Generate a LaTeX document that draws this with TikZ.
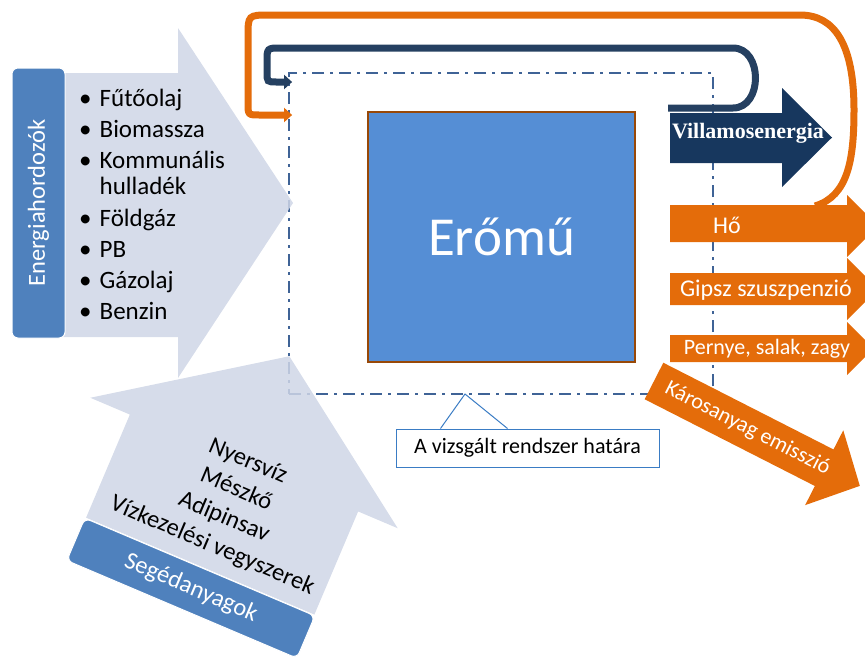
\documentclass[tikz,border=0pt]{standalone}
\usepackage{fontspec}
\setmainfont{Carlito}
\newfontfamily\villfont{Liberation Serif}
\usepackage{tikz}
\usetikzlibrary{shapes,arrows.meta,positioning}
\definecolor{paleblue}{HTML}{CFD6E6}
\definecolor{steelblue}{HTML}{4F81BD}
\definecolor{plantblue}{HTML}{558ED5}
\definecolor{plantbrown}{HTML}{984807}
\definecolor{bordblue}{HTML}{3F6396}
\definecolor{navy}{HTML}{17375E}
\definecolor{loopnavy}{HTML}{254061}
\definecolor{outorange}{HTML}{E46C0A}
\definecolor{callblue}{HTML}{3A7CC4}
\tikzstyle{carrier} = [fill=paleblue, fill opacity=0.85]
\tikzstyle{sidebox} = [rectangle, draw=white, line width=1pt, fill=steelblue,
    text=white, rounded corners=6pt, font=\fontsize{24.5}{28}\selectfont]
\tikzstyle{boundline} = [rectangle, draw=bordblue, line width=1.8pt,
    dash pattern=on 12pt off 6pt on 3pt off 6pt, inner sep=0pt]
\tikzstyle{plant} = [rectangle, draw=plantbrown, line width=1.5pt, fill=plantblue,
    text=white, font=\fontsize{55}{60}\selectfont]
\tikzstyle{outlabel} = [text=white, inner sep=0pt, font=\fontsize{23}{26}\selectfont]
\tikzstyle{feedback} = [line width=7pt, -{Triangle[length=8pt,width=14pt]}]
\tikzstyle{callbox} = [rectangle, draw=callblue, line width=1pt, fill=white,
    minimum width=263pt, minimum height=38pt, font=\fontsize{22}{26}\selectfont]
\begin{document}
\begin{tikzpicture}[x=1pt, y=-1pt]
  \useasboundingbox (0,0) rectangle (865,657);
  % Place nodes
  \node [boundline, minimum width=424pt, minimum height=321pt] (border) at (501,233.5) {};
  \node [plant, minimum width=267pt, minimum height=250pt] (powerplant) at (501.5,237) {Erőmű};
  \fill [carrier] (60,73) -- (178,73) -- (178,28) -- (293,203) -- (178,378) -- (178,337) -- (60,337) -- cycle;
  \node [sidebox, rotate=90, minimum width=270pt, minimum height=53pt] (energy) at (38.5,203) {Energiahordozók};
  \node [anchor=north west, inner sep=0pt, font=\fontsize{25}{26}\selectfont] (fuels) at (79,88)
  {\begin{tabular}{@{}l@{\hspace{8pt}}l@{}}
   \textbullet & Fűtőolaj\\[5pt] \textbullet & Biomassza\\[5pt] \textbullet & Kommunális\\
   & hulladék\\[6pt] \textbullet & Földgáz\\[5pt] \textbullet & PB\\[5pt]
   \textbullet & Gázolaj\\[5pt] \textbullet & Benzin
  \end{tabular}};
  % Output arrows
  \fill [navy] (670,113) -- (782,113) -- (782,88) -- (832,137.5) -- (782,187) -- (782,163) -- (670,163) -- cycle;
  \node [text=white, inner sep=0pt, font=\villfont\bfseries\fontsize{22}{24}\selectfont] (electric) at (748,133) {Villamosenergia};
  \foreach \bt/\bb/\ht/\hb in {205/242/195/257, 273/305/258/320, 335/362/322/375}
    \fill [outorange] (670,\bt) -- (847,\bt) -- (847,\ht) -- ({847+(\hb-\ht)/2},{(\ht+\hb)/2})
      -- (847,\hb) -- (847,\bb) -- (670,\bb) -- cycle;
  \node [outlabel, font=\fontsize{24}{26}\selectfont] (heat) at (727,225) {Hő};
  \node [outlabel, font=\fontsize{24}{26}\selectfont] (gypsum) at (766,290) {Gipsz szuszpenzió};
  \node [outlabel, font=\fontsize{22}{26}\selectfont] (ash) at (767,349) {Pernye, salak, zagy};
  \begin{scope}[shift={(654,381)}, rotate=-27]
    \fill [outorange] (0,-20.5) -- (191,-20.5) -- (191,-42) -- (231,0) -- (191,42) -- (191,20.5) -- (0,20.5) -- cycle;
    \node [outlabel, font=\fontsize{22}{26}\selectfont, transform shape] (emission) at (105,0) {Károsanyag emisszió};
  \end{scope}
  % Auxiliary materials
  \begin{scope}[shift={(244,463)}, rotate=-23]
    \fill [carrier] (-124,112) -- (-124,0) -- (-167,0) -- (0,-116) -- (167,0) -- (124,0) -- (124,112) -- cycle;
    \node [sidebox, minimum width=250pt, minimum height=46pt, transform shape] (aux) at (0,136) {Segédanyagok};
    \node [align=center, font=\fontsize{24.5}{30.5}\selectfont, transform shape] (auxlist) at (3,43)
      {Nyersvíz\\Mészkő\\Adipinsav\\Vízkezelési vegyszerek};
  \end{scope}
  % Callout
  \node [callbox] (callnote) at (527.5,448) {A vizsgált rendszer határa};
  \coordinate (callpoint) at (465,394);
  \draw [callblue, line width=1pt] ([xshift=-87pt]callnote.north) -- (callpoint) -- ([xshift=-20pt]callnote.north);
  % Draw feedback loops
  \coordinate (powerback) at (668,108);
  \coordinate (heatback) at (815,206);
  \coordinate (powerin) at ([xshift=4pt]border.west |- 0,82);
  \coordinate (heatin) at ([xshift=4pt]border.west |- 0,115);
  \draw [feedback, loopnavy] (powerback) -- (733,108) .. controls (763,108) and (763,48) .. (733,48)
    -- (281,48) .. controls (267,48) .. (267,62) -- (267,72) .. controls (267,82) .. (277,82) -- (powerin);
  \draw [feedback, outorange] (heatback) .. controls (848,196) and (854,160) .. (854,110)
    .. controls (854,45) and (835,15) .. (800,15) -- (270,15) .. controls (248,15) .. (248,37)
    -- (248,103) .. controls (248,115) .. (260,115) -- (heatin);
\end{tikzpicture}
\end{document}
